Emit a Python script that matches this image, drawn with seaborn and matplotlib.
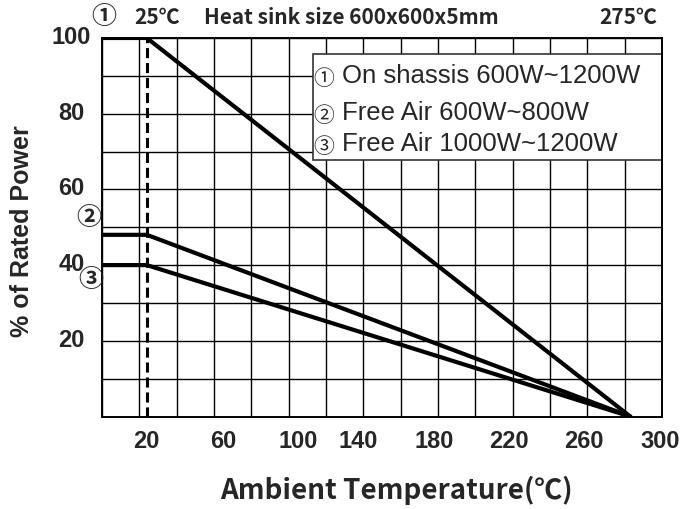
#!/usr/bin/env python3

import numpy as np
import pandas as pd
import seaborn as sns
import matplotlib.pyplot as plt
import matplotlib.transforms as mtransforms
from matplotlib.patches import Rectangle

# =====================
# 1. Dados
# =====================
series = ["1", "2", "3"]
potencia_inicial = [100, 48, 40]      # % da potência nominal antes do joelho
temp_joelho = 24                      # início da redução (linha tracejada)
temp_final = 283                      # potência chega a 0 %

x_ticks = [24, 65, 105, 137, 178, 218, 258, 299]
x_labels = ["20", "60", "100", "140", "180", "220", "260", "300"]
y_ticks = [20, 40, 60, 80, 100]
y_labels = ["20", "40", "60", "80", "100"]

circulos = ["①", "②", "③"]
legenda = ["On shassis 600W~1200W", "Free Air 600W~800W", "Free Air 1000W~1200W"]

linhas = []
for s, p in zip(series, potencia_inicial):
    for t, v in zip([0, temp_joelho, temp_final], [p, p, 0]):
        linhas.append({"serie": s, "temp": t, "pot": v})
df = pd.DataFrame(linhas)

# =====================
# 2. Figura
# =====================
sns.set_style("white")
W, H = 683, 510
fig = plt.figure(figsize=(W / 100, H / 100), dpi=100)
ax = fig.add_axes([102 / W, 1 - 417.5 / H, 560 / W, 378.5 / H])


def px(x, y):
    return x / W, 1 - y / H


sns.lineplot(data=df, x="temp", y="pot", hue="serie", palette=["black"] * 3,
             lw=3, legend=False, sort=False, estimator=None, ax=ax)
ax.axvline(temp_joelho, color="black", lw=2.2, ls=(0, (3.3, 1.6)), zorder=3)

ax.set_xlim(0, 300)
ax.set_ylim(0, 100)
ax.set_xlabel("")
ax.set_ylabel("")

# grade (minor), sem remover as que coincidem com os ticks principais
ax.xaxis.remove_overlapping_locs = False
ax.yaxis.remove_overlapping_locs = False
ax.set_xticks(np.arange(0, 301, 20), minor=True)
ax.set_yticks(np.arange(0, 101, 10), minor=True)
ax.grid(which="minor", color="black", lw=1.0)
ax.grid(which="major", visible=False)
ax.set_axisbelow(True)
for sp in ax.spines.values():
    sp.set_color("black")
    sp.set_linewidth(1.4)

fonte = ["Liberation Sans", "Noto Sans CJK KR"]
ax.set_xticks(x_ticks)
ax.set_xticklabels(x_labels, fontsize=17, fontweight="bold", family=fonte)
ax.set_yticks(y_ticks)
ax.set_yticklabels(y_labels, fontsize=17, fontweight="bold", family=fonte, ha="center")
ax.tick_params(axis="both", which="both", length=0)
ax.tick_params(axis="x", pad=9)
ax.tick_params(axis="y", pad=22)
for lab in ax.get_yticklabels():
    lab.set_transform(lab.get_transform() +
                      mtransforms.ScaledTranslation(0, 4 / 100, fig.dpi_scale_trans))

# caixa de legenda
ax.add_patch(Rectangle((0.3773, 0.6785), 0.6227, 0.28, transform=ax.transAxes,
                       facecolor="white", edgecolor="#333333", lw=1.2, zorder=2.5))
y_leg = [76, 113, 144]
for c, txt, y in zip(circulos, legenda, y_leg):
    fig.text(*px(324, y + 3), c, fontsize=15, family="Noto Sans CJK KR",
             ha="center", va="center")
    fig.text(*px(342, y), txt, fontsize=18.5, family="Liberation Sans",
             ha="left", va="center")

# textos do topo
cjk = ["Noto Sans CJK KR", "DejaVu Sans"]
fig.text(*px(104, 17), "①", fontsize=18, fontweight="bold", family=cjk,
         ha="center", va="center")
fig.text(*px(157, 18), "25℃", fontsize=15, fontweight="bold", family=cjk,
         ha="center", va="center")
fig.text(*px(351, 18), "Heat sink size 600x600x5mm", fontsize=15, fontweight="bold",
         family=cjk, ha="center", va="center")
fig.text(*px(628, 18), "275℃", fontsize=15, fontweight="bold", family=cjk,
         ha="center", va="center")
fig.text(*px(89, 218), "②", fontsize=18, fontweight="bold", family=cjk,
         ha="center", va="center")
fig.text(*px(91, 280), "③", fontsize=18, fontweight="bold", family=cjk,
         ha="center", va="center")

# rótulos dos eixos
fig.text(*px(396, 490), "Ambient Temperature(℃)", fontsize=20, fontweight="bold",
         family=cjk, ha="center", va="center")
fig.text(*px(22, 231), "% of Rated Power", fontsize=18, fontweight="bold",
         family=fonte, rotation=90, ha="center", va="center")

plt.savefig("out.png", dpi=100)
